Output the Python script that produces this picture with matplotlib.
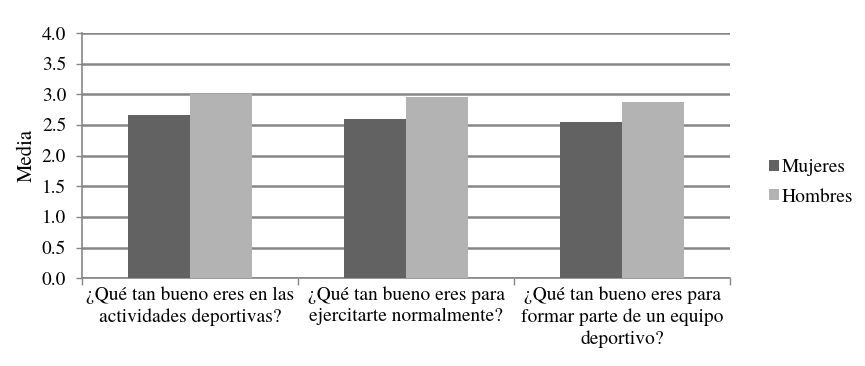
import matplotlib.pyplot as plt
import numpy as np

plt.rcParams['font.family'] = ['TeX Gyre Termes', 'Liberation Serif', 'DejaVu Serif']

# Datos
preguntas = [
    '¿Qué tan bueno eres en las\nactividades deportivas?',
    '¿Qué tan bueno eres para\nejercitarte normalmente?',
    '¿Qué tan bueno eres para\nformar parte de un equipo\ndeportivo?',
]
mujeres = [2.66, 2.59, 2.54]
hombres = [3.00, 2.96, 2.88]

fig = plt.figure(figsize=(8.65, 3.66), dpi=100)
ax = fig.add_axes([0.095, 0.240, 0.749, 0.670])

x = np.arange(len(preguntas))
w = 0.287
ax.bar(x - w / 2, mujeres, w, color='#626262', label='Mujeres', zorder=3)
ax.bar(x + w / 2, hombres, w, color='#b3b3b3', label='Hombres', zorder=3)

ax.set_xlim(-0.5, 2.5)
ax.set_ylim(0, 4.0)
ax.set_yticks(np.arange(0, 4.01, 0.5))
ax.set_yticklabels([f'{v:.1f}' for v in np.arange(0, 4.01, 0.5)], fontsize=14)

# etiquetas centradas, ticks en los bordes de categoría
ax.set_xticks(x)
ax.set_xticklabels(preguntas, fontsize=14, linespacing=1.3)
ax.tick_params(axis='x', length=0, pad=6)
ax.set_xticks([-0.5, 0.5, 1.5, 2.5], minor=True)
ax.tick_params(axis='x', which='minor', length=5, color='#868686', width=1)
ax.tick_params(axis='y', length=4.5, color='#868686', width=1, pad=7)

ax.grid(axis='y', color='#868686', linewidth=1.8, zorder=0)
ax.set_axisbelow(True)
for s in ['top', 'right']:
    ax.spines[s].set_visible(False)
ax.spines['left'].set_color('#868686')
ax.spines['bottom'].set_color('#868686')
ax.spines['left'].set_linewidth(1.2)
ax.spines['bottom'].set_linewidth(1.2)

ax.set_ylabel('Media', fontsize=15, labelpad=4)

fig.legend(loc='center left', bbox_to_anchor=(0.878, 0.502), frameon=False,
           fontsize=14, handlelength=0.5, handleheight=0.5, borderpad=0,
           handletextpad=0.15, labelspacing=0.65)

fig.savefig('out.png', dpi=100)
